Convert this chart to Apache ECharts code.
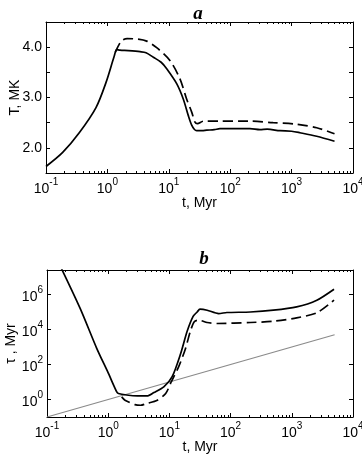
<!DOCTYPE html>
<html>
<head>
<meta charset="utf-8">
<script src="https://cdn.jsdelivr.net/npm/echarts@6/dist/echarts.min.js"></script>
<style>
  html, body { margin: 0; padding: 0; background: #fff; }
  #chart { width: 362px; height: 459px; }
</style>
</head>
<body>
<div id="chart"></div>
<script>
// panel a: T (MK) vs t (Myr)
var tA = [0.1, 0.187, 0.348, 0.652, 0.95, 1.29, 1.42, 1.6, 2.2, 3.4, 4.26, 5.6, 7.5, 9.25, 13.5, 17.2, 20.8, 23.6, 26, 28.4, 35, 41.4, 55, 68, 100, 145, 210, 305, 400, 647, 1000, 1371, 2563, 5000];
var TSolidA = [1.63, 1.91, 2.3, 2.8, 3.3, 3.82, 3.95, 3.94, 3.93, 3.91, 3.89, 3.80, 3.70, 3.57, 3.27, 2.97, 2.64, 2.45, 2.37, 2.34, 2.34, 2.35, 2.36, 2.38, 2.38, 2.38, 2.38, 2.36, 2.37, 2.34, 2.33, 2.30, 2.23, 2.13];
var tAd = [1.35, 1.68, 2.1, 3.1, 4.36, 6.35, 10.5, 15.2, 19.5, 23.6, 26.7, 29.2, 36.7, 68, 145, 210, 500, 1200, 2563, 5000];
var TDashA = [3.90, 4.12, 4.17, 4.16, 4.12, 3.99, 3.73, 3.37, 2.97, 2.71, 2.51, 2.48, 2.53, 2.53, 2.53, 2.53, 2.50, 2.47, 2.40, 2.28];

// panel b: tau (Myr) vs t (Myr)
var tB = [0.15, 0.348, 0.652, 1.0, 1.38, 1.47, 2.0, 3.0, 4.3, 5.6, 8.1, 11.1, 15.2, 19.5, 24.4, 28.4, 31.6, 41.4, 63.7, 87, 210, 500, 1200, 2563, 4900];
var tauSolidB = [8.3e7, 1.6e5, 810, 33, 2.7, 2.2, 1.8, 1.6, 1.6, 2.5, 5.2, 20, 400, 7.9e3, 5.6e4, 1.0e5, 1.45e5, 1.26e5, 8.1e4, 9.3e4, 1.0e5, 1.26e5, 1.95e5, 4.7e5, 2.0e6];
var tBd = [1.66, 1.88, 2.73, 3.4, 4.26, 6.35, 8.7, 10.7, 14.3, 18.3, 22, 25.5, 30.2, 41.4, 59.6, 210, 500, 1200, 2563, 4900];
var tauDashB = [1.41, 0.91, 0.51, 0.47, 0.59, 0.91, 2.2, 10, 80, 800, 8e3, 2.8e4, 3.4e4, 2.5e4, 2.2e4, 2.5e4, 2.95e4, 4.6e4, 8.9e4, 4.7e5];
var tGray = [0.1, 5000];
var tauGray = [0.1, 5000];

// tick labels
var xTicks = [0.1, 1, 10, 100, 1000, 10000];
var yTicksA = [2.0, 3.0, 4.0];
var yTicksB = [1, 100, 1e4, 1e6];

var FONT = 'Liberation Sans';

function zip(xs, ys) {
  return xs.map(function (x, i) { return [x, ys[i]]; });
}

// minor ticks 2..9 in every decade
var minorX = [];
for (var d = -1; d < 4; d++) {
  for (var k = 2; k < 10; k++) minorX.push(+(k * Math.pow(10, d)).toPrecision(3));
}

function powLabel(v) {
  var e = Math.round(Math.log10(v));
  return '{b|10}{e|' + e + '}';
}
var powRich = {
  b: { fontSize: 14, fontFamily: FONT, color: '#000', lineHeight: 19, verticalAlign: 'bottom' },
  e: { fontSize: 10, fontFamily: FONT, color: '#000', verticalAlign: 'top' }
};
var nameStyle = { fontFamily: FONT, fontSize: 14, color: '#000' };

function xAxes(gi) {
  var base = { type: 'log', logBase: 10, min: 0.1, max: 10000, gridIndex: gi, splitLine: { show: false } };
  return [
    Object.assign({}, base, {
      position: 'bottom',
      name: 't, Myr',
      nameLocation: 'middle', nameGap: 23, nameMoveOverlap: false,
      nameTextStyle: nameStyle,
      axisLine: { show: true, lineStyle: { color: '#000', width: 1 } },
      axisTick: { show: true, inside: true, length: 4, customValues: xTicks, lineStyle: { color: '#000' } },
      axisLabel: { show: true, margin: 4, customValues: xTicks, formatter: powLabel, rich: powRich, color: '#000' }
    }),
    Object.assign({}, base, {
      position: 'bottom',
      axisLine: { show: false },
      axisTick: { show: true, inside: true, length: 2, customValues: minorX, lineStyle: { color: '#000' } },
      axisLabel: { show: false }
    }),
    Object.assign({}, base, {
      position: 'top',
      axisLine: { show: true, lineStyle: { color: '#000', width: 1 } },
      axisTick: { show: true, inside: true, length: 4, customValues: xTicks, lineStyle: { color: '#000' } },
      axisLabel: { show: false }
    }),
    Object.assign({}, base, {
      position: 'top',
      axisLine: { show: false },
      axisTick: { show: true, inside: true, length: 2, customValues: minorX, lineStyle: { color: '#000' } },
      axisLabel: { show: false }
    })
  ];
}

var chart = echarts.init(document.getElementById('chart'));

var option = {
  animation: false,
  backgroundColor: '#fff',
  title: [
    { text: 'a', left: 193, top: 0, textAlign: 'center',
      textStyle: { fontFamily: 'Liberation Serif', fontStyle: 'italic', fontWeight: 'bold', fontSize: 19, color: '#000' } },
    { text: 'b', left: 199, top: 245, textAlign: 'center',
      textStyle: { fontFamily: 'Liberation Serif', fontStyle: 'italic', fontWeight: 'bold', fontSize: 19, color: '#000' } }
  ],
  grid: [
    { left: 46, top: 22, width: 307, height: 151, outerBoundsMode: 'none' },
    { left: 47, top: 270, width: 306, height: 147, outerBoundsMode: 'none' }
  ],
  xAxis: xAxes(0).concat(xAxes(1)),
  yAxis: [
    {
      type: 'value', gridIndex: 0, position: 'left', min: 1.5, max: 4.5, interval: 0.5,
      name: 'T, MK', nameLocation: 'middle', nameGap: 24, nameMoveOverlap: false,
      nameTextStyle: nameStyle,
      splitLine: { show: false },
      axisLine: { show: true, lineStyle: { color: '#000', width: 1 } },
      axisTick: { show: true, inside: true, length: 4, lineStyle: { color: '#000' } },
      axisLabel: {
        margin: 4, fontFamily: FONT, fontSize: 14, color: '#000',
        formatter: function (v) { return yTicksA.indexOf(v) >= 0 ? v.toFixed(1) : ''; }
      }
    },
    {
      type: 'value', gridIndex: 0, position: 'right', min: 1.5, max: 4.5, interval: 0.5,
      splitLine: { show: false },
      axisLine: { show: true, lineStyle: { color: '#000', width: 1 } },
      axisTick: { show: true, inside: true, length: 4, lineStyle: { color: '#000' } },
      axisLabel: { show: false }
    },
    {
      type: 'log', logBase: 10, gridIndex: 1, position: 'left', min: 0.1, max: 2.5e7,
      name: 'τ , Myr', nameLocation: 'middle', nameGap: 29, nameMoveOverlap: false,
      nameTextStyle: nameStyle,
      splitLine: { show: false },
      axisLine: { show: true, lineStyle: { color: '#000', width: 1 } },
      axisTick: { show: true, inside: true, length: 4, customValues: yTicksB, lineStyle: { color: '#000' } },
      axisLabel: { margin: 4, customValues: yTicksB, formatter: powLabel, rich: powRich, color: '#000' }
    },
    {
      type: 'log', logBase: 10, gridIndex: 1, position: 'right', min: 0.1, max: 2.5e7,
      splitLine: { show: false },
      axisLine: { show: true, lineStyle: { color: '#000', width: 1 } },
      axisTick: { show: true, inside: true, length: 4, customValues: yTicksB, lineStyle: { color: '#000' } },
      axisLabel: { show: false }
    }
  ],
  series: [
    {
      type: 'line', xAxisIndex: 0, yAxisIndex: 0, data: zip(tA, TSolidA),
      showSymbol: false, smooth: 0.3, lineStyle: { color: '#000', width: 1.7 }
    },
    {
      type: 'line', xAxisIndex: 0, yAxisIndex: 0, data: zip(tAd, TDashA),
      showSymbol: false, smooth: 0.3, lineStyle: { color: '#000', width: 1.7, type: [10, 5] }
    },
    {
      type: 'line', xAxisIndex: 4, yAxisIndex: 2, data: zip(tGray, tauGray),
      showSymbol: false, lineStyle: { color: '#8a8a8a', width: 1.2 }
    },
    {
      type: 'line', xAxisIndex: 4, yAxisIndex: 2, data: zip(tB, tauSolidB),
      showSymbol: false, smooth: 0.25, lineStyle: { color: '#000', width: 1.7 }
    },
    {
      type: 'line', xAxisIndex: 4, yAxisIndex: 2, data: zip(tBd, tauDashB),
      showSymbol: false, smooth: 0.25, lineStyle: { color: '#000', width: 1.7, type: [10, 5] }
    }
  ]
};

chart.setOption(option);
</script>
</body>
</html>
